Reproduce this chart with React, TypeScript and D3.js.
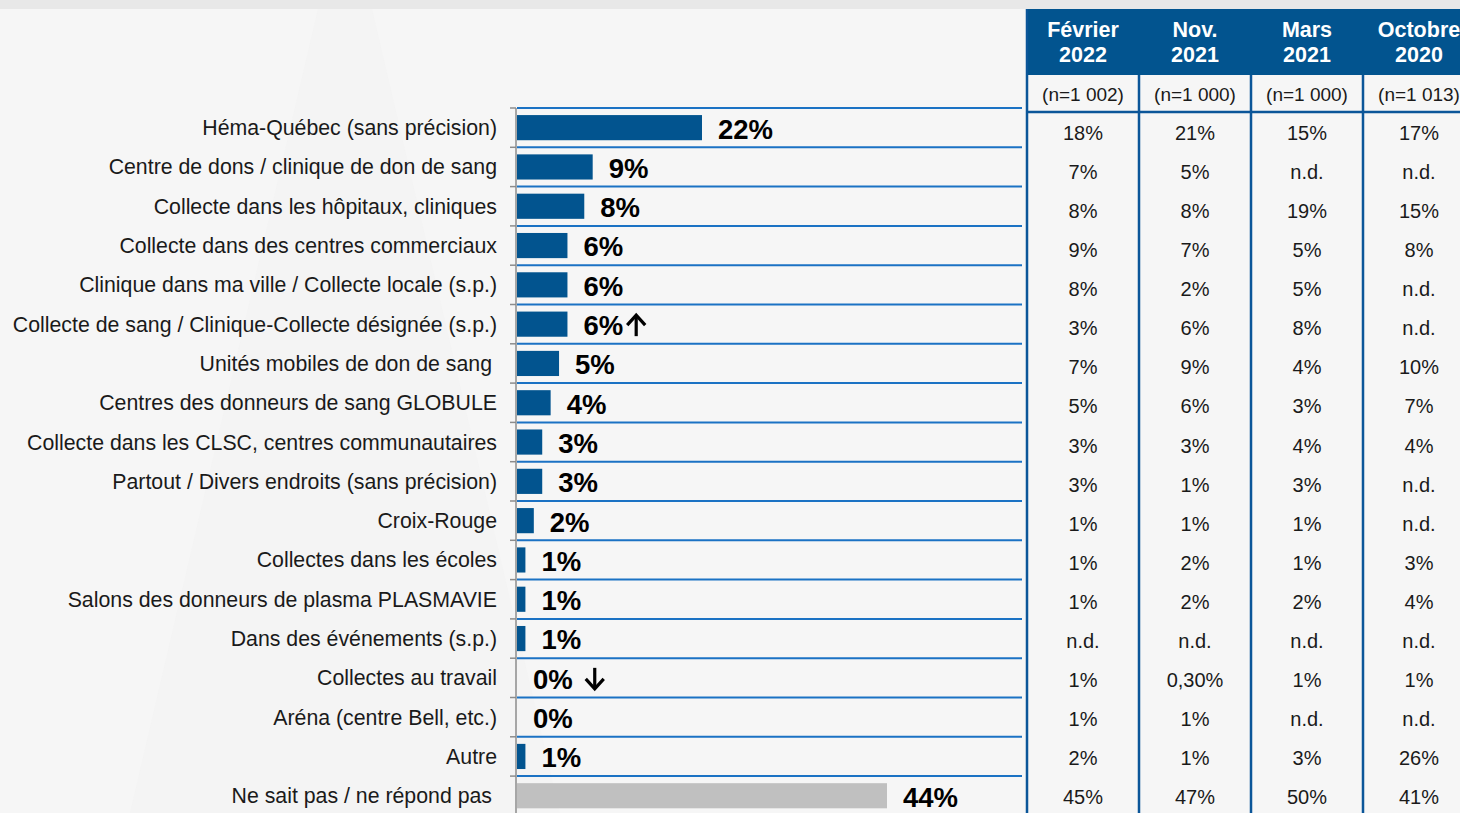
import React from "react";
import * as d3 from "d3";

const categories = [
  "Héma-Québec (sans précision)",
  "Centre de dons / clinique de don de sang",
  "Collecte dans les hôpitaux, cliniques",
  "Collecte dans des centres commerciaux",
  "Clinique dans ma ville / Collecte locale (s.p.)",
  "Collecte de sang / Clinique-Collecte désignée (s.p.)",
  "Unités mobiles de don de sang",
  "Centres des donneurs de sang GLOBULE",
  "Collecte dans les CLSC, centres communautaires",
  "Partout / Divers endroits (sans précision)",
  "Croix-Rouge",
  "Collectes dans les écoles",
  "Salons des donneurs de plasma PLASMAVIE",
  "Dans des événements (s.p.)",
  "Collectes au travail",
  "Aréna (centre Bell, etc.)",
  "Autre",
  "Ne sait pas / ne répond pas",
];

const values = [22, 9, 8, 6, 6, 6, 5, 4, 3, 3, 2, 1, 1, 1, 0, 0, 1, 44];
// 1 = significant increase, -1 = significant decrease
const trends = [0, 0, 0, 0, 0, 1, 0, 0, 0, 0, 0, 0, 0, 0, -1, 0, 0, 0];

const tableHeaders = [
  ["Février", "2022"],
  ["Nov.", "2021"],
  ["Mars", "2021"],
  ["Octobre", "2020"],
];
const sampleSizes = ["(n=1 002)", "(n=1 000)", "(n=1 000)", "(n=1 013)"];

const fev2022 = ["18%", "7%", "8%", "9%", "8%", "3%", "7%", "5%", "3%", "3%", "1%", "1%", "1%", "n.d.", "1%", "1%", "2%", "45%"];
const nov2021 = ["21%", "5%", "8%", "7%", "2%", "6%", "9%", "6%", "3%", "1%", "1%", "2%", "2%", "n.d.", "0,30%", "1%", "1%", "47%"];
const mars2021 = ["15%", "n.d.", "19%", "5%", "5%", "8%", "4%", "3%", "4%", "3%", "1%", "1%", "2%", "n.d.", "1%", "n.d.", "3%", "50%"];
const oct2020 = ["17%", "n.d.", "15%", "8%", "n.d.", "n.d.", "10%", "7%", "4%", "n.d.", "n.d.", "3%", "4%", "n.d.", "1%", "n.d.", "26%", "41%"];
const tableColumns = [fev2022, nov2021, mars2021, oct2020];

const W = 1460;
const H = 813;
const FONT = "'Liberation Sans', Arial, sans-serif";
const BLUE = "#02548f";
const LINE_BLUE = "#1b72c4";
const TABLE_BLUE = "#0b5699";
const VAL_FS = 27.5;

export default function App() {
  const idx = categories.map((_, i) => i);
  const axisX = 516;
  const rowStep = 39.3;
  const y = d3
    .scaleBand<number>()
    .domain(idx)
    .range([108, 108 + rowStep * categories.length])
    .paddingInner(0.36)
    .paddingOuter(0.18);
  const x = d3.scaleLinear().domain([0, 22]).range([axisX + 1, 702]);

  const tableLeft = 1027;
  const colW = 112;
  const tx = d3
    .scaleBand<number>()
    .domain([0, 1, 2, 3])
    .range([tableLeft, tableLeft + colW * 4]);
  const ty = d3
    .scaleBand<number>()
    .domain(idx)
    .range([113.5, 113.5 + 39.06 * categories.length]);

  const rowTop = (i: number) => 108 + rowStep * i;
  const boldW = (s: string) => {
    let w = 0;
    for (const c of s) w += c === "%" ? 0.889 : c === " " ? 0.278 : 0.556;
    return w * VAL_FS;
  };

  return (
    <svg
      width={W}
      height={H}
      style={{ position: "fixed", left: 0, top: 0, fontFamily: FONT }}
    >
      <rect x={0} y={0} width={W} height={H} fill="#f6f6f6" />
      <rect x={0} y={0} width={W} height={9} fill="#e8e8e8" />
      <polygon points="318,9 372,9 560,813 130,813" fill="#f1f1f1" opacity={0.5} />

      {/* row separators */}
      {idx.map((i) => (
        <line
          key={"sep" + i}
          x1={axisX + 1}
          x2={1022}
          y1={rowTop(i)}
          y2={rowTop(i)}
          stroke={LINE_BLUE}
          strokeWidth={2}
        />
      ))}

      {/* axis + ticks */}
      <line x1={axisX} x2={axisX} y1={108} y2={H} stroke="#8c8c8c" strokeWidth={1.5} />
      {idx.map((i) => (
        <line
          key={"tick" + i}
          x1={axisX - 6}
          x2={axisX}
          y1={rowTop(i)}
          y2={rowTop(i)}
          stroke="#8c8c8c"
          strokeWidth={1.5}
        />
      ))}

      {/* bars */}
      {values.map((v, i) => (
        <rect
          key={"bar" + i}
          x={x(0)}
          y={y(i)!}
          width={Math.max(0, x(v) - x(0))}
          height={y.bandwidth()}
          fill={i === values.length - 1 ? "#c0c0c0" : BLUE}
        />
      ))}

      {/* category labels */}
      {categories.map((c, i) => (
        <text
          key={"cat" + i}
          x={i === 6 || i === 17 ? 492 : 497}
          y={y(i)! + y.bandwidth() / 2}
          dy="0.35em"
          textAnchor="end"
          fontSize={21.3}
          fill="#1a1a1a"
        >
          {c}
        </text>
      ))}

      {/* value labels */}
      {values.map((v, i) => {
        const lx = x(v) + 16;
        const cy = y(i)! + y.bandwidth() / 2;
        const label = v + "%";
        const t = trends[i];
        const ax = lx + boldW(label) + (t === -1 ? 22 : 13);
        return (
          <g key={"val" + i}>
            <text
              x={lx}
              y={cy + 1}
              dy="0.36em"
              fontSize={VAL_FS}
              fontWeight="bold"
              fill="#000"
            >
              {label}
            </text>
            {t !== 0 && (
              <g
                transform={`translate(${ax},${cy + 1}) scale(1,${t === 1 ? 1 : -1})`}
                fill="none"
                stroke="#000"
                strokeWidth={3.2}
                strokeLinejoin="miter"
              >
                <line x1={0} x2={0} y1={-10} y2={11} />
                <polyline points="-9,0 0,-10 9,0" />
              </g>
            )}
          </g>
        );
      })}

      {/* table */}
      <rect x={tableLeft} y={9} width={W - tableLeft} height={66} fill={BLUE} />
      {tableHeaders.map((h, j) => (
        <text
          key={"th" + j}
          x={tx(j)! + colW / 2}
          textAnchor="middle"
          fontSize={21.5}
          fontWeight="bold"
          fill="#fff"
        >
          <tspan x={tx(j)! + colW / 2} y={37}>
            {h[0]}
          </tspan>
          <tspan x={tx(j)! + colW / 2} y={62}>
            {h[1]}
          </tspan>
        </text>
      ))}
      {sampleSizes.map((n, j) => (
        <text
          key={"n" + j}
          x={tx(j)! + colW / 2}
          y={94}
          dy="0.35em"
          textAnchor="middle"
          fontSize={19}
          fill="#1a1a1a"
        >
          {n}
        </text>
      ))}
      <line x1={tableLeft} x2={W} y1={112} y2={112} stroke={TABLE_BLUE} strokeWidth={2.5} />
      {[0, 1, 2, 3].map((j) => (
        <line
          key={"vl" + j}
          x1={tx(j)!}
          x2={tx(j)!}
          y1={j === 0 ? 9 : 75}
          y2={H}
          stroke={TABLE_BLUE}
          strokeWidth={2.5}
        />
      ))}
      {tableColumns.map((col, j) =>
        col.map((v, i) => (
          <text
            key={"td" + j + "-" + i}
            x={tx(j)! + colW / 2}
            y={ty(i)! + ty.bandwidth() / 2}
            dy="0.35em"
            textAnchor="middle"
            fontSize={20}
            fill="#1a1a1a"
          >
            {v}
          </text>
        ))
      )}
    </svg>
  );
}
